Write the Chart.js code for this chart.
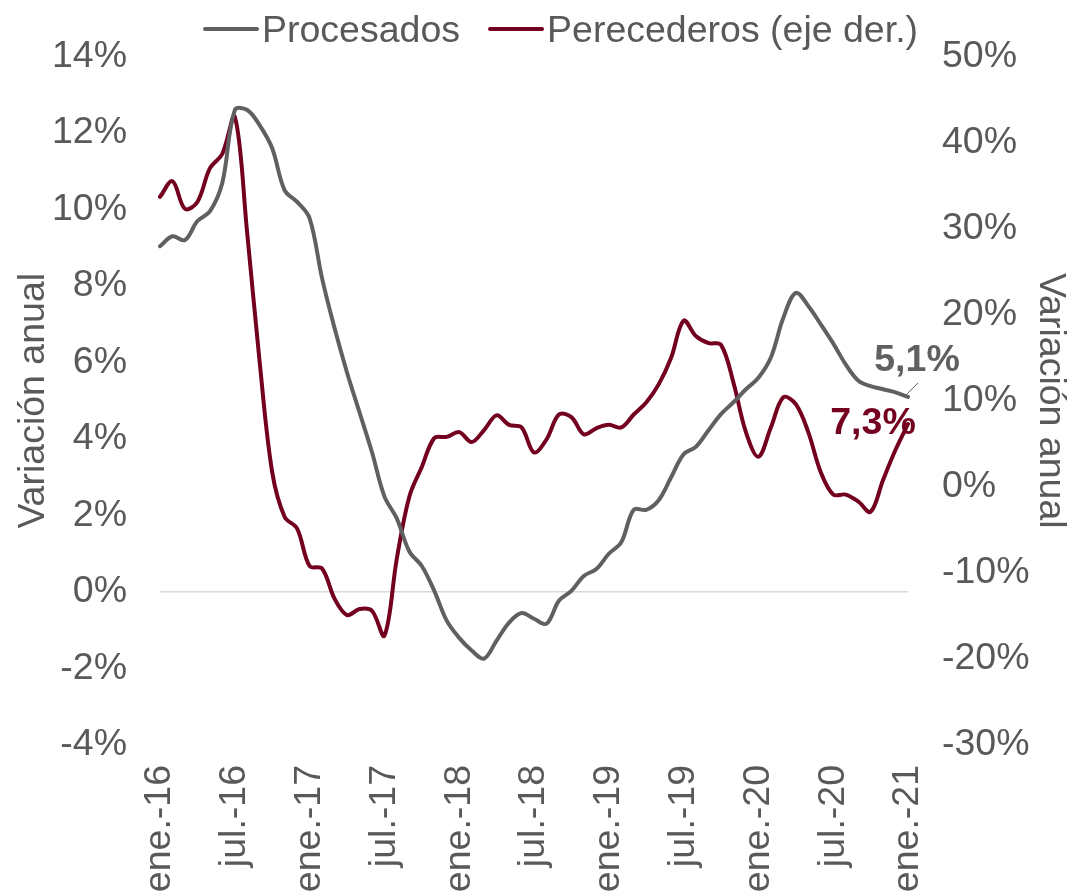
<!DOCTYPE html>
<html>
<head>
<meta charset="utf-8">
<script src="https://cdn.jsdelivr.net/npm/chart.js@4.4.0/dist/chart.umd.min.js"></script>
<style>
html,body{margin:0;padding:0;background:#fff;}
#wrap{width:1076px;height:896px;}
</style>
</head>
<body>
<div id="wrap"><canvas id="c" width="1076" height="896"></canvas></div>
<script>
const categories = [
 'ene.-16','feb.-16','mar.-16','abr.-16','may.-16','jun.-16','jul.-16','ago.-16','sep.-16','oct.-16','nov.-16','dic.-16',
 'ene.-17','feb.-17','mar.-17','abr.-17','may.-17','jun.-17','jul.-17','ago.-17','sep.-17','oct.-17','nov.-17','dic.-17',
 'ene.-18','feb.-18','mar.-18','abr.-18','may.-18','jun.-18','jul.-18','ago.-18','sep.-18','oct.-18','nov.-18','dic.-18',
 'ene.-19','feb.-19','mar.-19','abr.-19','may.-19','jun.-19','jul.-19','ago.-19','sep.-19','oct.-19','nov.-19','dic.-19',
 'ene.-20','feb.-20','mar.-20','abr.-20','may.-20','jun.-20','jul.-20','ago.-20','sep.-20','oct.-20','nov.-20','dic.-20',
 'ene.-21'
];
// Procesados (left axis, %)
const procesados = [
 9.04, 9.3, 9.2, 9.7, 9.95, 10.7, 12.6, 12.6, 12.2, 11.6, 10.5, 10.2,
 9.77, 8.2, 6.9, 5.74, 4.7, 3.66, 2.5, 1.92, 1.06, 0.68, 0.03, -0.75,
 -1.2, -1.53, -1.74, -1.27, -0.8, -0.55, -0.7, -0.83, -0.23, 0.03, 0.42, 0.6,
 1.0, 1.3, 2.15, 2.15, 2.4, 3.0, 3.6, 3.8, 4.23, 4.65, 4.96, 5.3,
 5.6, 6.13, 7.17, 7.82, 7.48, 7.0, 6.5, 5.95, 5.53, 5.38, 5.3, 5.22,
 5.1
];
// Perecederos (right axis, %)
const perecederos = [
 33.7, 35.5, 32.3, 33.1, 37.0, 38.7, 43.0, 29.4, 14.4, 1.7, -3.5, -4.85,
 -9.2, -9.5, -13.0, -14.9, -14.2, -14.4, -17.3, -8.3, -1.15, 2.3, 5.66, 5.8,
 6.35, 5.2, 6.6, 8.3, 7.2, 6.9, 4.0, 5.5, 8.4, 8.1, 6.1, 6.8,
 7.2, 6.9, 8.4, 9.8, 11.9, 15.0, 19.3, 17.5, 16.7, 16.5, 12.1, 6.35,
 3.5, 6.9, 10.4, 9.6, 6.35, 1.7, -0.9, -0.9, -1.7, -2.9, 0.8, 4.3,
 7.3
];
const seriesNames = ['Procesados', 'Perecederos (eje der.)'];
const lastLabels = ['5,1%', '7,3%'];
const axisTitle = 'Variación anual';

const GREY = '#606060';
const RED = '#740020';
const TXT = '#595959';
const FONT = '"Liberation Sans", Arial, sans-serif';
const FS = 37.5;

const legendPlugin = {
  id: 'customLegend',
  afterDraw(chart) {
    const ctx = chart.ctx;
    ctx.save();
    ctx.font = FS + 'px ' + FONT;
    ctx.textBaseline = 'alphabetic';
    ctx.textAlign = 'left';
    let x = 203;
    const colors = [GREY, RED];
    seriesNames.forEach((name, i) => {
      ctx.strokeStyle = colors[i];
      ctx.lineWidth = 4;
      ctx.lineCap = 'round';
      ctx.beginPath();
      ctx.moveTo(x + 2, 29);
      ctx.lineTo(x + 54, 29);
      ctx.stroke();
      ctx.fillStyle = TXT;
      ctx.fillText(name, x + 59, 42);
      x += 59 + ctx.measureText(name).width + 28;
    });
    ctx.restore();
  }
};

const labelPlugin = {
  id: 'lastLabels',
  afterDatasetsDraw(chart) {
    const ctx = chart.ctx;
    const xs = chart.scales.x;
    const n = categories.length - 1;
    const px = xs.getPixelForValue(n);
    const py1 = chart.scales.y.getPixelForValue(procesados[n]);
    const py2 = chart.scales.y1.getPixelForValue(perecederos[n]);
    ctx.save();
    ctx.strokeStyle = GREY;
    ctx.lineWidth = 1;
    ctx.beginPath();
    ctx.moveTo(px - 2, py1 - 2);
    ctx.lineTo(px + 10, py1 - 14);
    ctx.stroke();
    ctx.font = 'bold ' + FS + 'px ' + FONT;
    ctx.textAlign = 'center';
    ctx.textBaseline = 'alphabetic';
    ctx.fillStyle = GREY;
    ctx.fillText(lastLabels[0], px + 9, py1 - 26);
    ctx.fillStyle = RED;
    ctx.fillText(lastLabels[1], px - 35, py2 + 10);
    ctx.restore();
  }
};

new Chart(document.getElementById('c'), {
  type: 'line',
  data: {
    labels: categories,
    datasets: [
      { label: seriesNames[0], data: procesados, yAxisID: 'y', borderColor: GREY, borderWidth: 4, pointRadius: 0, tension: 0.35, fill: false, borderCapStyle: 'round', borderJoinStyle: 'round' },
      { label: seriesNames[1], data: perecederos, yAxisID: 'y1', borderColor: RED, borderWidth: 4, pointRadius: 0, tension: 0.35, fill: false, borderCapStyle: 'round', borderJoinStyle: 'round' }
    ]
  },
  options: {
    responsive: false,
    animation: false,
    devicePixelRatio: 1,
    layout: { padding: { top: 52, left: 0, right: 0, bottom: 0 } },
    plugins: { legend: { display: false }, tooltip: { enabled: false } },
    scales: {
      x: {
        type: 'category',
        offset: false,
        grid: { display: false, drawTicks: false },
        border: { display: false },
        afterFit(s) { s.height = 151; },
        ticks: {
          autoSkip: false, minRotation: 90, maxRotation: 90, padding: 20,
          color: TXT, font: { family: FONT, size: FS },
          callback(v, i) { return i % 6 === 0 ? categories[i] : null; }
        }
      },
      y: {
        position: 'left', min: -4, max: 14,
        afterFit(s) { s.width = 160; },
        grid: { drawTicks: false, color: (c) => (c.tick && c.tick.value === 0) ? '#d9d9d9' : 'rgba(0,0,0,0)', lineWidth: 1.5 },
        border: { display: false },
        ticks: { stepSize: 2, padding: 33, color: TXT, font: { family: FONT, size: FS }, callback: (v) => v + '%' },
        title: { display: true, text: axisTitle, color: TXT, font: { family: FONT, size: FS }, padding: { top: 11, bottom: 0 } }
      },
      y1: {
        position: 'right', min: -30, max: 50,
        afterFit(s) { s.width = 168; },
        grid: { display: false, drawTicks: false },
        border: { display: false },
        ticks: { stepSize: 10, padding: 34, color: TXT, font: { family: FONT, size: FS }, callback: (v) => v + '%' },
        title: { display: true, text: axisTitle, color: TXT, font: { family: FONT, size: FS }, padding: { top: 3, bottom: 0 } }
      }
    }
  },
  plugins: [legendPlugin, labelPlugin]
});
</script>
</body>
</html>
